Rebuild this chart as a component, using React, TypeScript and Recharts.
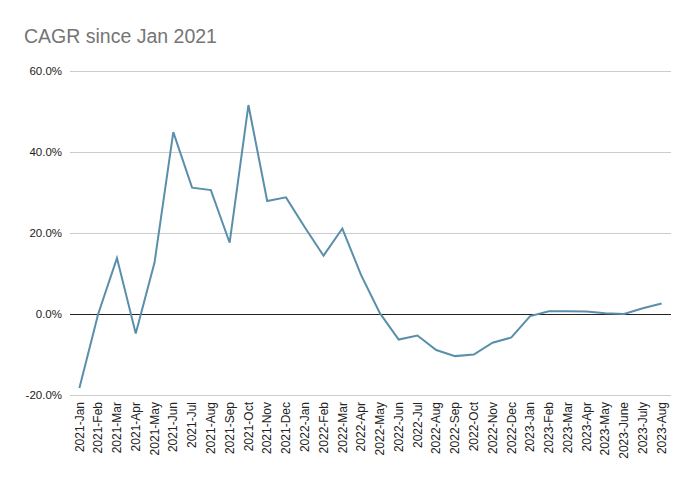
import React from "react";
import { LineChart, Line, XAxis, YAxis, CartesianGrid, ReferenceLine } from "recharts";

const months: string[] = [
  "2021-Jan", "2021-Feb", "2021-Mar", "2021-Apr", "2021-May", "2021-Jun", "2021-Jul", "2021-Aug",
  "2021-Sep", "2021-Oct", "2021-Nov", "2021-Dec", "2022-Jan", "2022-Feb", "2022-Mar", "2022-Apr",
  "2022-May", "2022-Jun", "2022-Jul", "2022-Aug", "2022-Sep", "2022-Oct", "2022-Nov", "2022-Dec",
  "2023-Jan", "2023-Feb", "2023-Mar", "2023-Apr", "2023-May", "2023-June", "2023-July", "2023-Aug",
];

const cagr: number[] = [
  -18.3, 0.0, 13.8, -4.8, 12.7, 44.9, 31.2, 30.6,
  17.6, 51.6, 27.9, 28.8, 21.4, 14.4, 21.1, 9.6,
  0.2, -6.3, -5.3, -8.9, -10.4, -10.0, -7.1, -5.8,
  -0.5, 0.65, 0.65, 0.6, 0.2, 0.0, 1.4, 2.6,
];

const yTicks: number[] = [-20, 0, 20, 40, 60];

const data = months.map((m, i) => ({ month: m, value: cagr[i] }));

const FONT = "'Liberation Sans', Arial, sans-serif";

const XTick = (props: any) => {
  const { x, y, payload } = props;
  const ty = y + 7;
  return (
    <text
      x={x}
      y={ty}
      transform={`rotate(-90, ${x}, ${ty})`}
      textAnchor="end"
      dy="0.35em"
      fontSize={12}
      fontFamily={FONT}
      fill="#222"
    >
      {payload.value}
    </text>
  );
};

export default function App() {
  return (
    <div style={{ position: "absolute", left: 0, top: 0, width: 696, height: 485, background: "#fff" }}>
      <svg style={{ position: "absolute", left: 0, top: 0 }} width={696} height={60}>
        <text x={24} y={43} fontSize={19.5} fontFamily={FONT} fill="#757575">
          CAGR since Jan 2021
        </text>
      </svg>
      <LineChart
        width={696}
        height={485}
        data={data}
        margin={{ top: 71, right: 25, bottom: 0, left: 0 }}
      >
        <CartesianGrid vertical={false} stroke="#cccccc" shapeRendering="crispEdges" />
        <XAxis
          dataKey="month"
          interval={0}
          height={90}
          tickLine={false}
          axisLine={false}
          tickSize={0}
          tickMargin={0}
          padding={{ left: 9.4, right: 9.4 }}
          tick={<XTick />}
        />
        <YAxis
          domain={[-20, 60]}
          ticks={yTicks}
          width={70}
          tickLine={false}
          axisLine={false}
          tickSize={0}
          tickMargin={8}
          tickFormatter={(v: number) => `${v.toFixed(1)}%`}
          tick={{ fontSize: 11.5, fontFamily: FONT, fill: "#222" }}
        />
        <ReferenceLine y={0} stroke="#222222" strokeWidth={1} shapeRendering="crispEdges" />
        <Line
          type="linear"
          dataKey="value"
          stroke="#5a8fab"
          strokeWidth={2}
          dot={false}
          isAnimationActive={false}
        />
      </LineChart>
    </div>
  );
}
